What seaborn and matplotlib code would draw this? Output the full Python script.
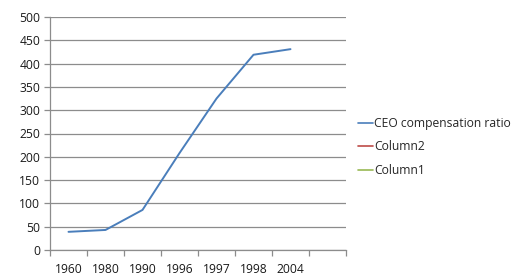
import pandas as pd
import matplotlib
matplotlib.use("Agg")
import matplotlib.pyplot as plt
from matplotlib.lines import Line2D
import seaborn as sns

# -----------------------------
# Data
# -----------------------------

years = ["1960", "1980", "1990", "1996", "1997", "1998", "2004"]
ceo_ratio = [39, 43, 86, 208, 325, 419, 431]
series_names = ["CEO compensation ratio", "Column2", "Column1"]
series_colors = ["#4A7EBB", "#BE4B48", "#98B954"]

df = pd.DataFrame({"year": years, "ratio": ceo_ratio})

# -----------------------------
# Plot
# -----------------------------

sns.set_theme(style="white")
plt.rcParams["font.family"] = ["Open Sans", "DejaVu Sans"]

fig = plt.figure(figsize=(5.19, 2.78), dpi=100)
ax = fig.add_axes([50 / 519, 28 / 278, 296 / 519, 233 / 278])

sns.lineplot(data=df, x="year", y="ratio", ax=ax, color=series_colors[0],
             linewidth=1.4, sort=False)

# one empty category slot after the last year, like the original sheet
ax.set_xlim(-0.5, len(years) + 0.5)
ax.set_ylim(0, 500)
ax.set_yticks(range(0, 501, 50))
ax.set_xticks(range(len(years)))
ax.set_xticklabels(years)
ax.set_xticks([i - 0.5 for i in range(len(years) + 2)], minor=True)

ax.grid(axis="y", color="#8c8c8c", linewidth=0.9)
ax.set_axisbelow(True)
for side in ["top", "right"]:
    ax.spines[side].set_visible(False)
for side in ["left", "bottom"]:
    ax.spines[side].set_color("#8c8c8c")
    ax.spines[side].set_linewidth(0.9)

ax.tick_params(axis="x", which="major", length=0, pad=9.5, labelsize=8.7, colors="#1a1a1a")
ax.tick_params(axis="x", which="minor", length=4, width=0.9, color="#8c8c8c", bottom=True)
ax.tick_params(axis="y", length=4, width=0.9, color="#8c8c8c", left=True,
               labelsize=8.7, labelcolor="#1a1a1a", pad=3)
ax.set_xlabel("")
ax.set_ylabel("")

handles = [Line2D([0], [0], color=c, linewidth=1.2) for c in series_colors]
fig.legend(handles, series_names, loc="center left",
           bbox_to_anchor=(358 / 519, 1 - 147 / 278), frameon=False,
           fontsize=8.7, handlelength=1.2, handletextpad=0.15, labelspacing=0.85,
           borderaxespad=0, borderpad=0)

plt.savefig("out.png", dpi=100)
